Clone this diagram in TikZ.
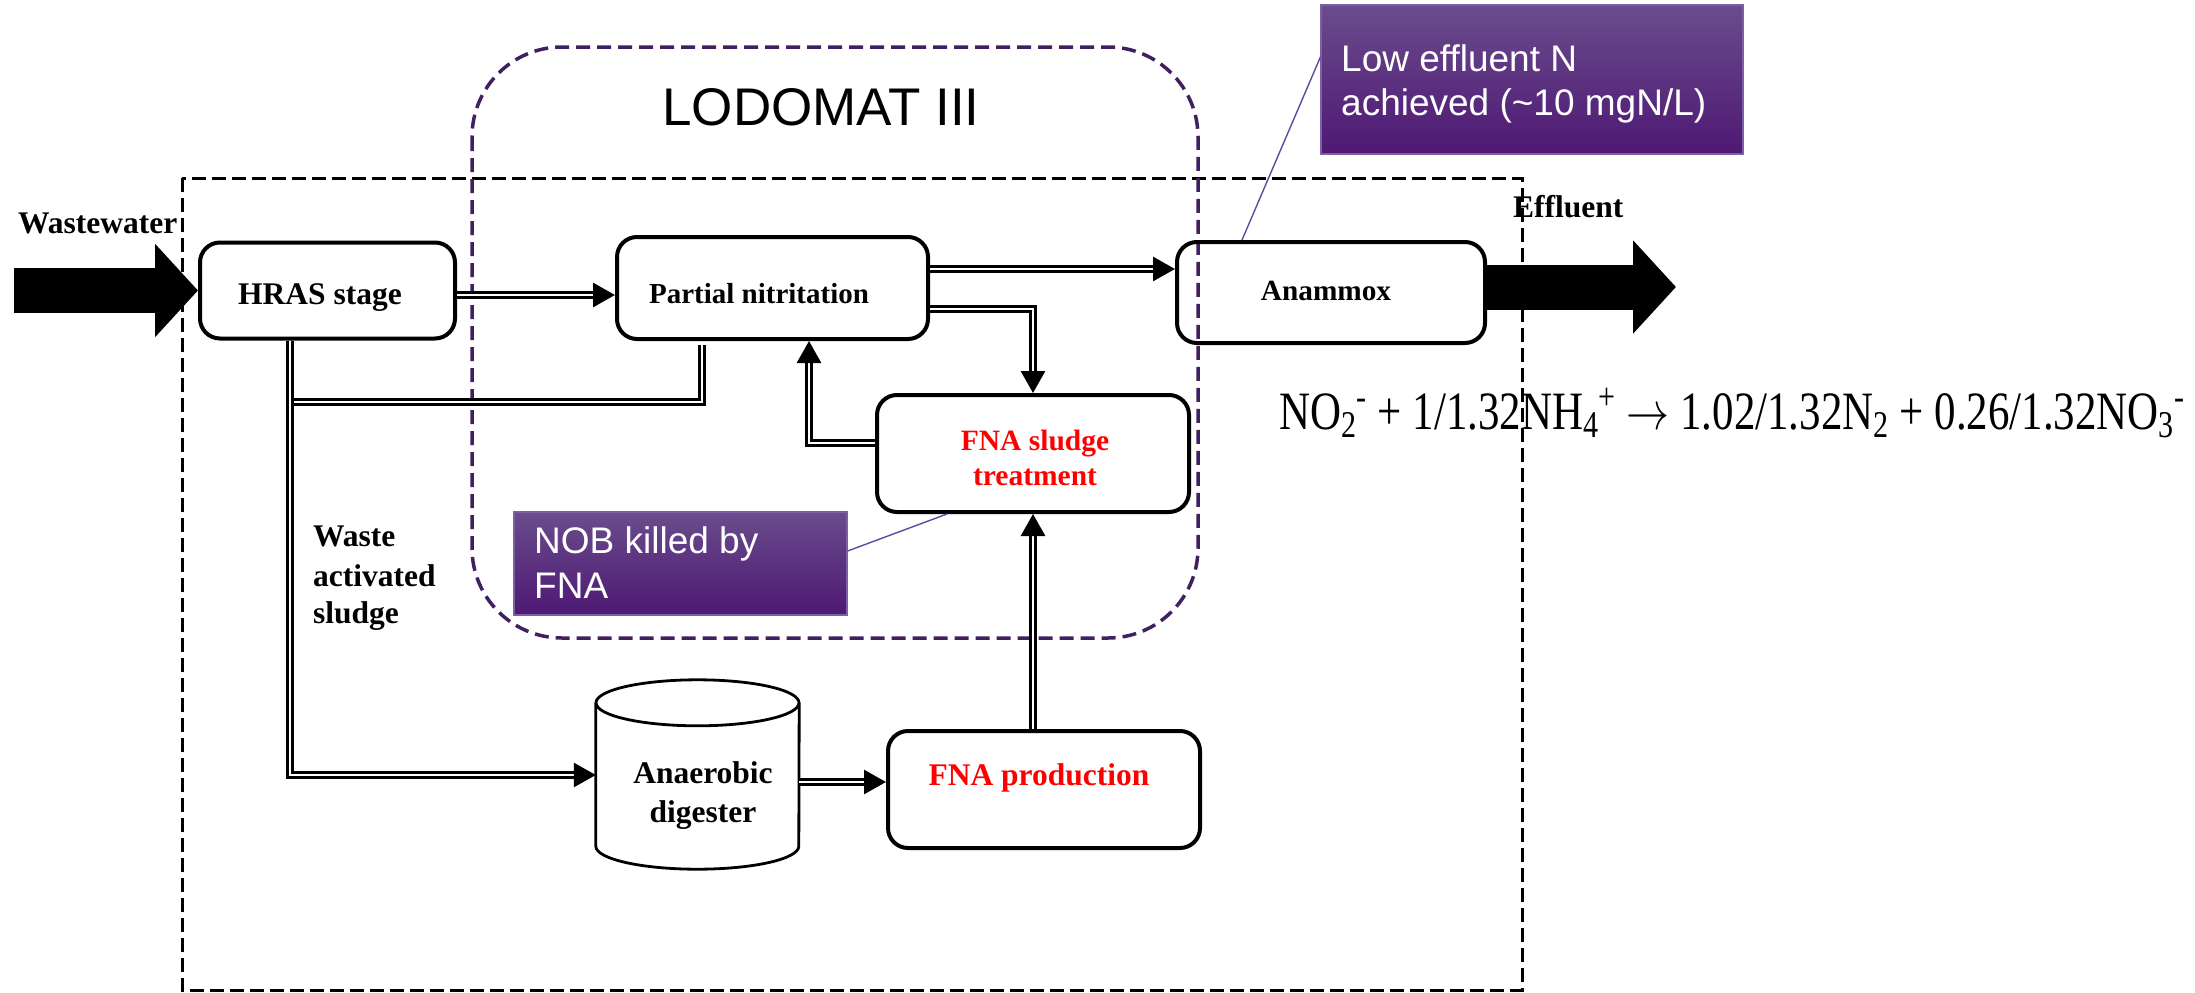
\RequirePackage{fix-cm}
\documentclass[tikz,border=0pt]{standalone}
\usepackage{fontspec}
\setmainfont{Liberation Serif}
\newfontfamily\arialf{Liberation Sans}
\usetikzlibrary{arrows.meta}
\definecolor{lodo}{RGB}{64,32,96}
\definecolor{calltop}{RGB}{106,76,140}
\definecolor{callbot}{RGB}{78,24,116}
\definecolor{calloutline}{RGB}{125,95,165}
\definecolor{leadercol}{RGB}{100,70,160}
\begin{document}
\begin{tikzpicture}[x=1pt,y=-1pt,
  box/.style={draw, line width=4pt, rounded corners=20pt, inner sep=0pt},
  lab/.style={font=\fontsize{31.5}{38}\selectfont\bfseries, inner sep=0pt, anchor=base},
  redlab/.style={lab, text=red},
  dl/.style={draw, line width=2.8pt, double=white, double distance=2.6pt},
  tipd/.style={-{Triangle[length=22pt,width=24pt]}},
  fat/.style={line width=45pt, -{Triangle[length=43pt,width=91pt]}},
  callout/.style={draw=calloutline, line width=1.2pt, top color=calltop, bottom color=callbot, inner sep=0pt},
  calltext/.style={font=\arialf\fontsize{37}{44}\selectfont, text=white, inner sep=0pt, anchor=base west},
  leader/.style={draw=leadercol, line width=1.4pt}
]
\useasboundingbox (0,0) rectangle (2195,993);

% system boundaries
\draw[line width=3pt, dash pattern=on 14pt off 6pt] (182,178) rectangle (1522,990);
\draw[lodo, line width=3.5pt, dash pattern=on 14pt off 7pt, rounded corners=90pt] (472,47) rectangle (1198,638);
\node[font=\arialf\fontsize{53}{60}\selectfont, inner sep=0pt, anchor=base] (lodotitle) at (821,125) {LODOMAT III};

% process units
\node[box, minimum width=255pt, minimum height=96pt] (hras) at (327.5,290.5) {};
\node[box, minimum width=311pt, minimum height=102pt] (partial) at (772.5,288) {};
\node[box, minimum width=308pt, minimum height=101pt] (anammox) at (1331,292.5) {};
\node[box, minimum width=312pt, minimum height=117pt] (fnas) at (1033,453.5) {};
\node[box, minimum width=312pt, minimum height=117pt] (fnap) at (1044,789.5) {};

% anaerobic digester (cylinder)
\node[minimum width=203pt, minimum height=189pt, inner sep=0pt] (dig) at (697.5,774.5) {};
\draw[line width=2.8pt, fill=white] ([yshift=-23pt]dig.north west) -- ([yshift=23pt]dig.south west)
  arc[start angle=180, end angle=360, x radius=101.5pt, y radius=23pt] -- ([yshift=-23pt]dig.north east);
\draw[line width=2.8pt] ([yshift=-23pt]dig.north) ellipse [x radius=101.5pt, y radius=23pt];

% labels
\node[lab] (hrastxt) at (320,304) {HRAS stage};
\node[lab, font=\fontsize{29}{35}\selectfont\bfseries] (partialtxt) at (759,303) {Partial nitritation};
\node[lab, font=\fontsize{29.3}{35}\selectfont\bfseries] (anammoxtxt) at (1326,300) {Anammox};
\node[redlab, font=\fontsize{29.5}{35}\selectfont\bfseries] (fnas1) at (1035,450) {FNA sludge};
\node[redlab, font=\fontsize{29.5}{35}\selectfont\bfseries] (fnas2) at (1035,485) {treatment};
\node[redlab] (fnaptxt) at (1039,785) {FNA production};
\node[lab] (dig1) at (703,783) {Anaerobic};
\node[lab] (dig2) at (703,822) {digester};
\node[lab, anchor=base west] (was1) at (313,546) {Waste};
\node[lab, anchor=base west] (was2) at (313,586) {activated};
\node[lab, anchor=base west] (was3) at (313,623) {sludge};
\node[lab, anchor=base west] (wwtxt) at (18,233) {Wastewater};
\node[lab, anchor=base west] (efftxt) at (1513,217) {Effluent};

% stoichiometry of the anammox step
\node[inner sep=0pt, anchor=base west] (eq) at (1279,429)
  {\scalebox{0.795}[1]{\fontsize{54}{60}\selectfont NO\textsubscript{2}\textsuperscript{-} + 1/1.32NH\textsubscript{4}\textsuperscript{+} $\rightarrow$ 1.02/1.32N\textsubscript{2} + 0.26/1.32NO\textsubscript{3}\textsuperscript{-}}};

% main flows
\coordinate (wwin) at (14,290.5);
\coordinate (effout) at (1676,287);
\draw[fat] (wwin) -- (hras.west);
\draw[fat] (anammox.east |- effout) -- (effout);

% connections
\coordinate (wasj) at (294,402);
\coordinate (pnret) at (702,345);
\draw[dl, tipd] (hras.east |- 0,295) -- (partial.west |- 0,295);
\draw[dl, tipd] (partial.east |- 0,269) -- (anammox.west |- 0,269);
\draw[dl, tipd] (partial.east |- 0,309) -| (fnas.north);
\draw[dl, tipd] (fnas.west |- 0,443) -| (809,0 |- partial.south);
\draw[dl, tipd] (fnas.south |- fnap.north) -- (fnas.south);
\draw[dl, tipd] (dig.east |- 0,782) -- (fnap.west |- 0,782);
\draw[dl, tipd] (290,0 |- hras.south) |- (dig.west |- 0,775);
\draw[dl] (wasj) -| (pnret);

% callouts
\node[callout, minimum width=422pt, minimum height=149pt] (lowbox) at (1532,79.5) {};
\node[calltext] (low1) at (1341,71) {Low effluent N};
\node[calltext] (low2) at (1341,115) {achieved (\textasciitilde10 mgN/L)};
\node[callout, minimum width=333pt, minimum height=103pt] (nobbox) at (680.5,563.5) {};
\node[calltext] (nob1) at (534,553) {NOB killed by};
\node[calltext] (nob2) at (534,598) {FNA};
\draw[leader] (lowbox.west |- 0,57) -- (1242,0 |- anammox.north);
\draw[leader] (nobbox.east |- 0,551) -- (947,0 |- fnas.south);
\end{tikzpicture}
\end{document}
